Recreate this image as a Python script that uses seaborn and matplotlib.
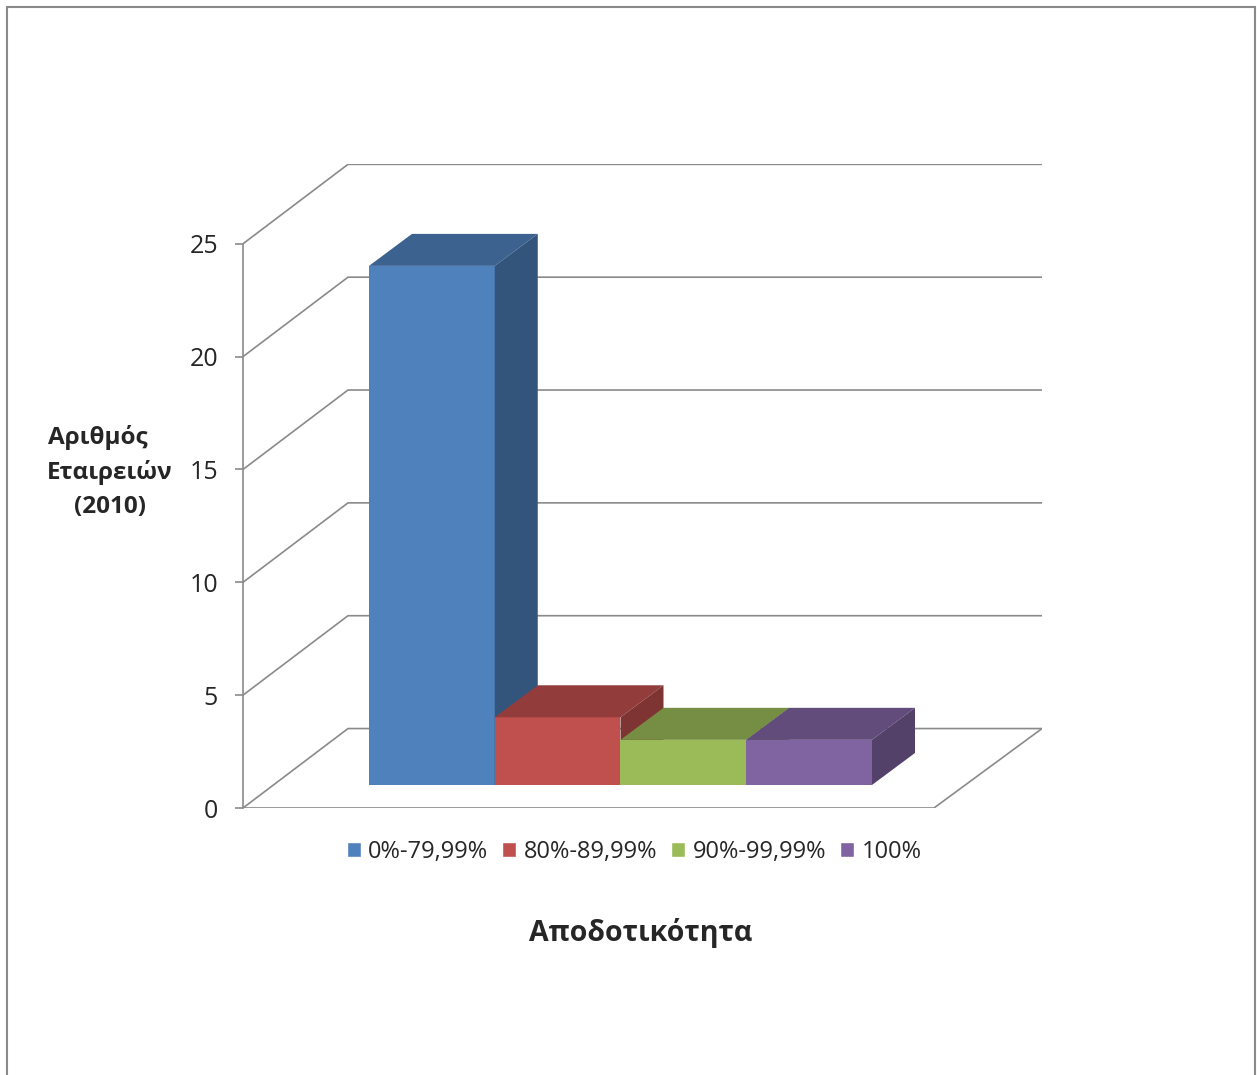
import numpy as np
import pandas as pd
import seaborn as sns
import matplotlib.pyplot as plt
from matplotlib.patches import Polygon, Rectangle
from matplotlib.colors import to_rgb

# data
categories = ['0%-79,99%', '80%-89,99%', '90%-99,99%', '100%']
companies = [23, 3, 2, 2]
y_ticks = [0, 5, 10, 15, 20, 25]
colors = ['#4F81BD', '#C0504D', '#9BBB59', '#8064A2']

# fake 3D geometry (data units)
wall_dx, wall_dy = 0.835, 3.52      # full depth of the box
bar_dx, bar_dy = 0.342, 1.418       # depth of each bar
front_y0 = -1.02                    # front floor edge relative to bar bottoms
xl, xr = -1.502, 4.852
floor_w = 5.495
grid_col = '#8A8A8A'

sns.set_theme(style='white')
plt.rcParams['font.family'] = ['Open Sans', 'DejaVu Sans']

fig = plt.figure(figsize=(12.57, 10.75), dpi=100)
ax = fig.add_axes([243 / 1257, 1 - 808 / 1075, (1042 - 243) / 1257, (808 - 164) / 1075])

df = pd.DataFrame({'Αποδοτικότητα': categories, 'Εταιρείες': companies})
sns.barplot(data=df, x='Αποδοτικότητα', y='Εταιρείες', hue='Αποδοτικότητα',
            palette=colors, width=1, saturation=1, ax=ax, legend=True)

# back wall / side wall / floor lines
for v in y_ticks:
    y = v + front_y0
    ax.plot([xl, xl + wall_dx, xr], [y, y + wall_dy, y + wall_dy],
            color=grid_col, lw=1.2, zorder=1, solid_joinstyle='miter')
ax.plot([xl, xl + floor_w, xr], [front_y0, front_y0, front_y0 + wall_dy],
        color=grid_col, lw=1.2, zorder=1)

# add top and side faces to each bar
for i, p in enumerate(ax.patches[:len(categories)]):
    x0, x1, h = p.get_x(), p.get_x() + p.get_width(), p.get_height()
    base = np.array(to_rgb(p.get_facecolor()))
    p.set_zorder(10 + 3 * i)
    p.set_edgecolor('none')
    top = Polygon([(x0, h), (x1, h), (x1 + bar_dx, h + bar_dy), (x0 + bar_dx, h + bar_dy)],
                  closed=True, facecolor=base * 0.76, edgecolor='none', zorder=11 + 3 * i)
    side = Polygon([(x1, 0), (x1, h), (x1 + bar_dx, h + bar_dy), (x1 + bar_dx, bar_dy)],
                   closed=True, facecolor=base * 0.65, edgecolor='none', zorder=12 + 3 * i)
    ax.add_patch(top)
    ax.add_patch(side)

ax.set_xlim(xl, xr)
ax.set_ylim(front_y0, (785 - 164) / 22.57)
ax.set_yticks([v + front_y0 for v in y_ticks])
ax.set_yticklabels([str(v) for v in y_ticks], fontsize=18)
ax.set_xticks([])
ax.tick_params(axis='y', which='both', left=True, length=6, width=1.2,
               color=grid_col, pad=12, direction='out')
for s in ['top', 'right', 'bottom']:
    ax.spines[s].set_visible(False)
ax.spines['left'].set_color(grid_col)
ax.spines['left'].set_linewidth(1.2)
ax.spines['left'].set_bounds(front_y0, 25 + front_y0)
ax.set_facecolor('none')

ax.set_ylabel('Αριθμός    \nΕταιρειών\n(2010)', rotation=0, fontsize=17.5, fontweight='bold',
              ha='center', va='center', multialignment='center', linespacing=1.55)
ax.yaxis.set_label_coords((110 - 243) / 799, (808 - 472) / 644)
ax.set_xlabel('Αποδοτικότητα', fontsize=20.5, fontweight='bold', va='baseline')
ax.xaxis.set_label_coords((641 - 243) / 799, (808 - 941) / 644)

sns.move_legend(ax, 'center', bbox_to_anchor=((634 - 243) / 799, (808 - 852) / 644),
                ncol=4, frameon=False, title=None, fontsize=17,
                handlelength=0.6, handleheight=0.6, handletextpad=0.3, columnspacing=0.6)

fig.add_artist(Rectangle((7 / 1257, -0.02), 1248 / 1257, 1.02 - 7 / 1075,
                         transform=fig.transFigure, fill=False, edgecolor='#8A8A8A', lw=1.5))

fig.savefig('out.png', dpi=100, facecolor='white')
